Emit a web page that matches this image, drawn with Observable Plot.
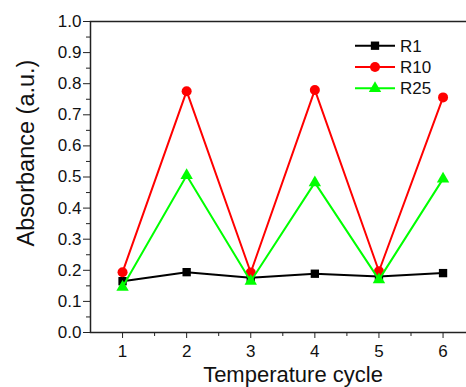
<!DOCTYPE html>
<html><head><meta charset="utf-8">
<script src="https://cdn.jsdelivr.net/npm/d3@7"></script>
<script src="https://cdn.jsdelivr.net/npm/@observablehq/plot@0.6"></script>
<style>body{margin:0;background:#fff;font-family:Arial,"Liberation Sans",sans-serif}</style>
</head><body><div id="chart"></div>
<script>
const cycles = [1, 2, 3, 4, 5, 6];
const R1 = [0.165, 0.194, 0.176, 0.189, 0.180, 0.191];
const R10 = [0.194, 0.776, 0.193, 0.780, 0.197, 0.756];
const R25 = [0.146, 0.505, 0.165, 0.482, 0.170, 0.494];
const seriesNames = ["R1", "R10", "R25"];
const seriesColors = ["#000000", "#ff0000", "#00ff00"];
const seriesSymbols = ["square", "circle", "triangle"];
const seriesR = [4.7, 5, 4.6];
const yTicks = [0, 0.1, 0.2, 0.3, 0.4, 0.5, 0.6, 0.7, 0.8, 0.9, 1.0];
const yMinor = [0.05, 0.15, 0.25, 0.35, 0.45, 0.55, 0.65, 0.75, 0.85, 0.95];
const xTicks = [1, 2, 3, 4, 5, 6];
const xMinor = [1.5, 2.5, 3.5, 4.5, 5.5, 6.5];

const vals = [R1, R10, R25];
const data = [];
vals.forEach((arr, s) => arr.forEach((v, i) => data.push({series: seriesNames[s], x: cycles[i], y: v})));

const marks = [];
seriesNames.forEach((name, s) => {
  const d = data.filter(e => e.series === name);
  marks.push(Plot.line(d, {x: "x", y: "y", stroke: seriesColors[s], strokeWidth: 2}));
  marks.push(Plot.dot(d, {x: "x", y: "y", fill: seriesColors[s], symbol: () => seriesSymbols[s], r: seriesR[s], stroke: "none"}));
});

const plot = Plot.plot({
  width: 466, height: 387,
  marginLeft: 90, marginRight: -8.6, marginTop: 21, marginBottom: 55,
  style: {fontFamily: "Arial, 'Liberation Sans', sans-serif", background: "#fff"},
  x: {domain: [0.5, 6.5]},
  y: {domain: [0, 1]},
  marks: [
    Plot.axisY({ticks: yTicks, tickSize: 7, tickPadding: 2, tickFormat: ".1f", fontSize: 17, label: null, stroke: "#222", color: "#111"}),
    Plot.axisY({ticks: yMinor, tickSize: 4, text: null, label: null, stroke: "#222"}),
    Plot.axisX({ticks: xTicks, tickSize: 6, tickPadding: 6, tickFormat: d3.format("d"), fontSize: 17, label: null, stroke: "#222", color: "#111"}),
    Plot.axisX({ticks: xMinor, tickSize: 4, text: null, label: null, stroke: "#222"}),
    ...marks,
    Plot.frame({stroke: "#222", strokeWidth: 1.5})
  ]
});

const svg = d3.select(plot);
svg.append("text").attr("transform", "translate(34,153) rotate(-90)")
  .attr("text-anchor", "middle").attr("font-size", 23.5).attr("fill", "#111")
  .text("Absorbance (a.u.)");
svg.append("text").attr("x", 293).attr("y", 382)
  .attr("text-anchor", "middle").attr("font-size", 22).attr("fill", "#111")
  .text("Temperature cycle");

const leg = svg.append("g");
seriesNames.forEach((name, s) => {
  const y = 45.7 + s * 21.3;
  leg.append("line").attr("x1", 355).attr("x2", 395).attr("y1", y).attr("y2", y)
    .attr("stroke", seriesColors[s]).attr("stroke-width", 2);
  leg.append("path").attr("transform", `translate(375,${y})`)
    .attr("d", d3.symbol(s === 0 ? d3.symbolSquare : s === 1 ? d3.symbolCircle : d3.symbolTriangle, Math.PI * seriesR[s] * seriesR[s])())
    .attr("fill", seriesColors[s]);
  leg.append("text").attr("x", 400).attr("y", y).attr("dy", "0.36em")
    .attr("text-anchor", "start")
    .attr("font-size", 17).attr("fill", "#111").text(name);
});

document.getElementById("chart").appendChild(plot);
</script></body></html>
